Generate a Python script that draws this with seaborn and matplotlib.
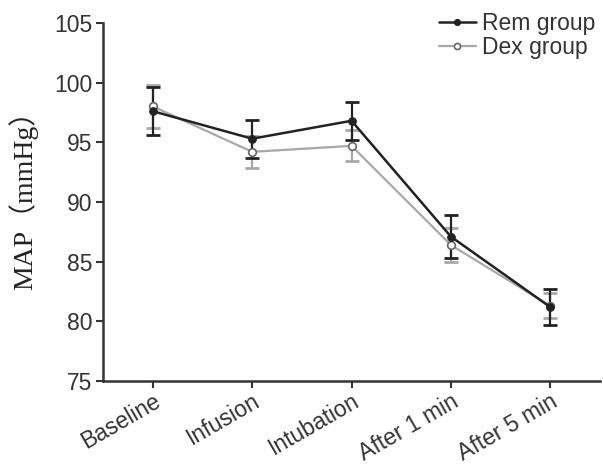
import pandas as pd
import matplotlib.pyplot as plt
import seaborn as sns

# ===== DADOS =====
timepoints = ["Baseline", "Infusion", "Intubation", "After 1 min", "After 5 min"]
rem_mean = [97.6, 95.3, 96.8, 87.1, 81.2]
rem_sd = [2.0, 1.6, 1.6, 1.8, 1.5]
dex_mean = [98.0, 94.2, 94.7, 86.4, 81.3]
dex_sd = [1.8, 1.35, 1.3, 1.4, 1.05]

REM_COLOR = "#222222"
DEX_COLOR = "#a8a8a8"

df = pd.DataFrame({
    "time": list(range(len(timepoints))) * 2,
    "MAP": rem_mean + dex_mean,
    "sd": rem_sd + dex_sd,
    "group": ["Rem group"] * 5 + ["Dex group"] * 5,
})

sns.set_style("ticks")
plt.rcParams["font.family"] = ["Liberation Sans", "DejaVu Sans"]

fig = plt.figure(figsize=(6.03, 4.66), dpi=100)
ax = fig.add_axes([0.171, 0.182, 0.824, 0.769])

# barras de erro (SD) primeiro, linhas por cima
for grp, color in [("Dex group", DEX_COLOR), ("Rem group", REM_COLOR)]:
    sub = df[df["group"] == grp]
    ax.errorbar(sub["time"], sub["MAP"], yerr=sub["sd"], fmt="none",
                ecolor=color, elinewidth=1.6, capsize=5, capthick=2, zorder=2)

sns.lineplot(data=df[df["group"] == "Rem group"], x="time", y="MAP", ax=ax,
             color=REM_COLOR, linewidth=1.8, marker="o", markersize=5.5,
             markerfacecolor=REM_COLOR, markeredgecolor=REM_COLOR,
             label="Rem group", zorder=4)
sns.lineplot(data=df[df["group"] == "Dex group"], x="time", y="MAP", ax=ax,
             color=DEX_COLOR, linewidth=1.6, marker="o", markersize=5.5,
             markerfacecolor="white", markeredgecolor="#666666",
             markeredgewidth=1.2, label="Dex group", zorder=3)

ax.set_xlim(-0.5, 4.5)
ax.set_ylim(75, 105)
ax.set_yticks(range(75, 106, 5))
ax.set_xticks(range(len(timepoints)))
ax.set_xticklabels(timepoints, rotation=30, ha="right", rotation_mode="anchor")
ax.tick_params(axis="y", labelsize=16.5, width=1.5, length=5, color="#333333",
               labelcolor="#333333", pad=3)
ax.tick_params(axis="x", labelsize=16.5, width=1.5, length=5, color="#333333",
               labelcolor="#333333", pad=1)
ax.set_xlabel("")
ax.set_ylabel("MAP（mmHg）", fontsize=20,
              family=["Liberation Serif", "Noto Sans CJK SC"], color="#222222")
ax.yaxis.set_label_coords(-0.13, 0.525)
sns.despine(ax=ax)
for side in ["left", "bottom"]:
    ax.spines[side].set_linewidth(1.8)
    ax.spines[side].set_color("#333333")

leg = ax.legend(loc="upper right", bbox_to_anchor=(1.01, 1.055), frameon=False,
                fontsize=16.5, handlelength=1.6, handletextpad=0.3,
                labelspacing=0.02, borderaxespad=0, markerscale=0.8)
for t in leg.get_texts():
    t.set_color("#333333")

fig.savefig("out.png", dpi=100)
